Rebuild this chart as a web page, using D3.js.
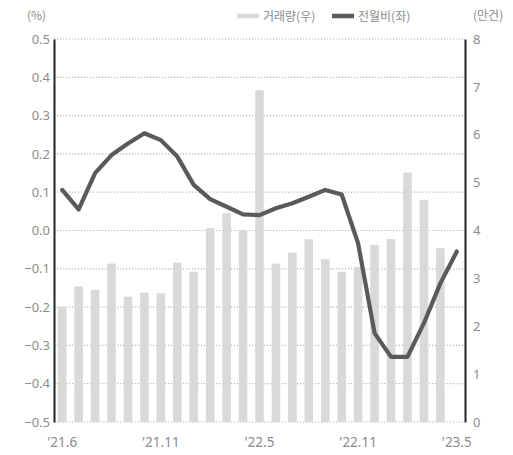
<!DOCTYPE html>
<html>
<head>
<meta charset="utf-8">
<script src="https://cdn.jsdelivr.net/npm/d3@7"></script>
<style>
  html, body { margin: 0; padding: 0; background: #fff; }
  svg { display: block; }
  text { font-family: "Noto Sans CJK KR", "Noto Sans", sans-serif; fill: #8c8c8c; }
</style>
</head>
<body>
<svg id="chart" width="513" height="455"></svg>
<script>
// Months on the category axis ('21.5 – '23.5)
const months = ["21.5","21.6","21.7","21.8","21.9","21.10","21.11","21.12",
  "22.1","22.2","22.3","22.4","22.5","22.6","22.7","22.8","22.9","22.10",
  "22.11","22.12","23.1","23.2","23.3","23.4","23.5"];

// Transaction volume, 10k cases (right axis) — not yet reported for the last month
const volume = [2.41, 2.83, 2.76, 3.31, 2.62, 2.70, 2.69, 3.33, 3.14, 4.05, 4.36, 4.01,
  6.93, 3.31, 3.54, 3.82, 3.40, 3.14, 3.24, 3.70, 3.82, 5.21, 4.64, 3.63];

// Month-on-month change, % (left axis)
const momChange = [0.106, 0.055, 0.150, 0.197, 0.227, 0.254, 0.236, 0.193, 0.119, 0.082,
  0.062, 0.042, 0.040, 0.058, 0.071, 0.088, 0.106, 0.094, -0.034, -0.268,
  -0.330, -0.330, -0.242, -0.138, -0.055];

// Axis ticks
const leftTicks = [0.5, 0.4, 0.3, 0.2, 0.1, 0.0, -0.1, -0.2, -0.3, -0.4, -0.5];
const rightTicks = [0, 1, 2, 3, 4, 5, 6, 7, 8];
const xTickMonths = ["21.5", "21.11", "22.5", "22.11", "23.5"];
const xTickLabels = ["'21.6", "'21.11", "'22.5", "'22.11", "'23.5"];

const legendItems = [
  { label: "거래량(우)", color: "#d9d9d9" },
  { label: "전월비(좌)", color: "#5a5a5a" }
];

const svg = d3.select("#chart");
const plotLeft = 54, plotRight = 465, plotTop = 39, plotBottom = 422;
const tickFont = '"Noto Sans", sans-serif';

const x = d3.scaleBand().domain(months).range([plotLeft, plotRight])
  .paddingInner(0.48).paddingOuter(0.24);
const yL = d3.scaleLinear().domain([-0.5, 0.5]).range([plotBottom, plotTop]);
const yR = d3.scaleLinear().domain([0, 8]).range([plotBottom, plotTop]);
const cx = m => x(m) + x.bandwidth() / 2;

// Dotted gridlines
svg.append("g").selectAll("line").data(leftTicks).join("line")
  .attr("x1", plotLeft).attr("x2", plotRight)
  .attr("y1", d => yL(d)).attr("y2", d => yL(d))
  .attr("stroke", "#b8b8b8").attr("stroke-width", 1.2)
  .attr("stroke-dasharray", "1.2,1.8");

// Volume bars
svg.append("g").selectAll("rect").data(volume).join("rect")
  .attr("x", (d, i) => x(months[i]))
  .attr("width", x.bandwidth())
  .attr("y", d => yR(d))
  .attr("height", d => yR(0) - yR(d))
  .attr("fill", "#d9d9d9");

// MoM line
const line = d3.line()
  .x((d, i) => cx(months[i]))
  .y(d => yL(d));
svg.append("path").datum(momChange)
  .attr("d", line)
  .attr("fill", "none")
  .attr("stroke", "#5a5a5a")
  .attr("stroke-width", 4.2)
  .attr("stroke-linejoin", "round")
  .attr("stroke-linecap", "round");

// Left axis
const axL = svg.append("g").attr("transform", `translate(${plotLeft},0)`)
  .call(d3.axisLeft(yL).tickValues(leftTicks).tickFormat(d3.format(".1f")).tickSize(0).tickPadding(4));
axL.select(".domain").attr("stroke", "#222").attr("stroke-width", 2);
axL.selectAll("text").attr("font-size", 13).attr("fill", "#8c8c8c")
  .style("font-family", tickFont);

// Right axis
const axR = svg.append("g").attr("transform", `translate(${plotRight},0)`)
  .call(d3.axisRight(yR).tickValues(rightTicks).tickSize(0).tickPadding(8));
axR.select(".domain").attr("stroke", "#222").attr("stroke-width", 2);
axR.selectAll("text").attr("font-size", 13).attr("fill", "#8c8c8c")
  .style("font-family", tickFont);

// Category labels
svg.append("g").selectAll("text").data(xTickMonths).join("text")
  .attr("x", d => cx(d))
  .attr("y", 447)
  .attr("text-anchor", "middle")
  .attr("font-size", 13.5)
  .style("font-family", tickFont)
  .text((d, i) => xTickLabels[i]);

// Units
svg.append("text").attr("x", 27).attr("y", 20).attr("font-size", 12).text("(%)");
svg.append("text").attr("x", 473).attr("y", 20).attr("font-size", 12).text("(만건)");

// Legend
const legend = svg.append("g");
const legendX = [237, 332];
legendItems.forEach((it, i) => {
  const g = legend.append("g").attr("transform", `translate(${legendX[i]},16)`);
  g.append("line").attr("x1", 0).attr("x2", 22).attr("y1", 0).attr("y2", 0)
    .attr("stroke", it.color).attr("stroke-width", 4.5);
  g.append("text").attr("x", 26).attr("y", 4.5).attr("font-size", 12).text(it.label);
});
</script>
</body>
</html>
